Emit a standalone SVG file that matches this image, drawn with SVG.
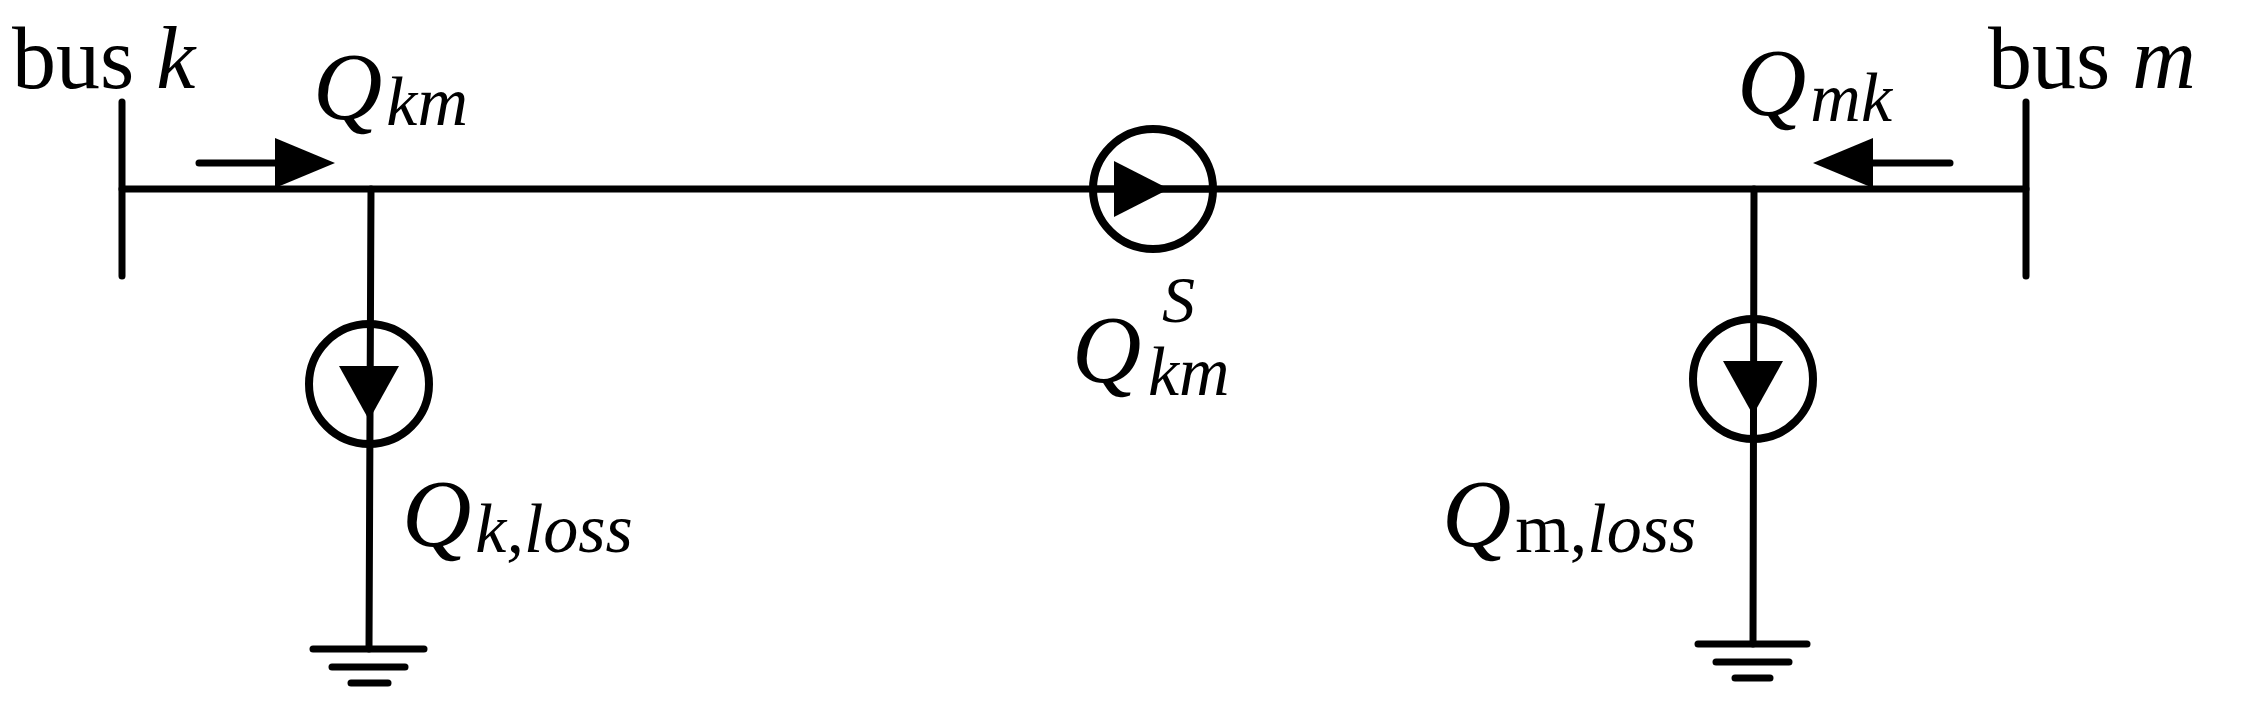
<svg xmlns="http://www.w3.org/2000/svg" width="2250" height="704" viewBox="0 0 2250 704">
<style>
.w{stroke:#000;stroke-width:7;stroke-linecap:round;fill:none}
.c{stroke:#000;stroke-width:8;fill:none}
.t{font-family:"Liberation Serif",serif;fill:#000}
.i{font-style:italic}
</style>
<rect width="2250" height="704" fill="#fff"/>
<g id="connectors">
<line class="w" x1="122" y1="189" x2="2026" y2="189"/>
<line class="w" x1="371" y1="189" x2="369" y2="649"/>
<line class="w" x1="1754" y1="189" x2="1753" y2="644"/>
<line class="w" x1="199" y1="163" x2="290" y2="163"/>
<polygon points="335,163 275,138 275,188" fill="#000"/>
<line class="w" x1="1950" y1="163" x2="1860" y2="163"/>
<polygon points="1813,163 1873,138 1873,188" fill="#000"/>
</g>
<g id="bus-k"><line class="w" x1="122" y1="102" x2="122" y2="276"/>
<text class="t" x="12" y="88" font-size="88">bus <tspan class="i">k</tspan></text></g>
<g id="bus-m"><line class="w" x1="2026" y1="102" x2="2026" y2="276"/>
<text class="t" x="1988" y="88" font-size="88">bus <tspan class="i">m</tspan></text></g>
<g id="src-km"><circle class="c" cx="1153" cy="189" r="60" fill="#fff"/>
<line class="w" x1="1093" y1="189" x2="1213" y2="189"/>
<polygon points="1169,189 1114,161 1114,217" fill="#000"/></g>
<g id="src-k"><circle class="c" cx="369" cy="384" r="60"/>
<polygon points="369,420 339,366 399,366" fill="#000"/></g>
<g id="src-m"><circle class="c" cx="1753" cy="379" r="60"/>
<polygon points="1753,415 1723,361 1783,361" fill="#000"/></g>
<g id="gnd-k"><line class="w" x1="313" y1="649" x2="424" y2="649"/><line class="w" x1="332" y1="667" x2="405" y2="667"/><line class="w" x1="351" y1="683" x2="388" y2="683"/></g>
<g id="gnd-m"><line class="w" x1="1698" y1="644" x2="1807" y2="644"/><line class="w" x1="1716" y1="662" x2="1789" y2="662"/><line class="w" x1="1735" y1="678" x2="1770" y2="678"/></g>
<g id="labels">
<text class="t i" x="313" y="119" font-size="96">Q<tspan font-size="70" dx="4" dy="6">km</tspan></text>
<text class="t i" x="1737" y="115" font-size="96">Q<tspan font-size="70" dx="4" dy="6">mk</tspan></text>
<text class="t i" x="1072" y="382" font-size="96">Q</text>
<text class="t i" x="1162" y="322" font-size="66">S</text>
<text class="t i" x="1148" y="395" font-size="70">km</text>
<text class="t i" x="402" y="546" font-size="96">Q<tspan font-size="70" dx="4" dy="6">k,loss</tspan></text>
<text class="t i" x="1442" y="546" font-size="96">Q<tspan font-size="70" dx="4" dy="6" font-style="normal">m,</tspan><tspan font-size="70">loss</tspan></text>
</g>
</svg>
